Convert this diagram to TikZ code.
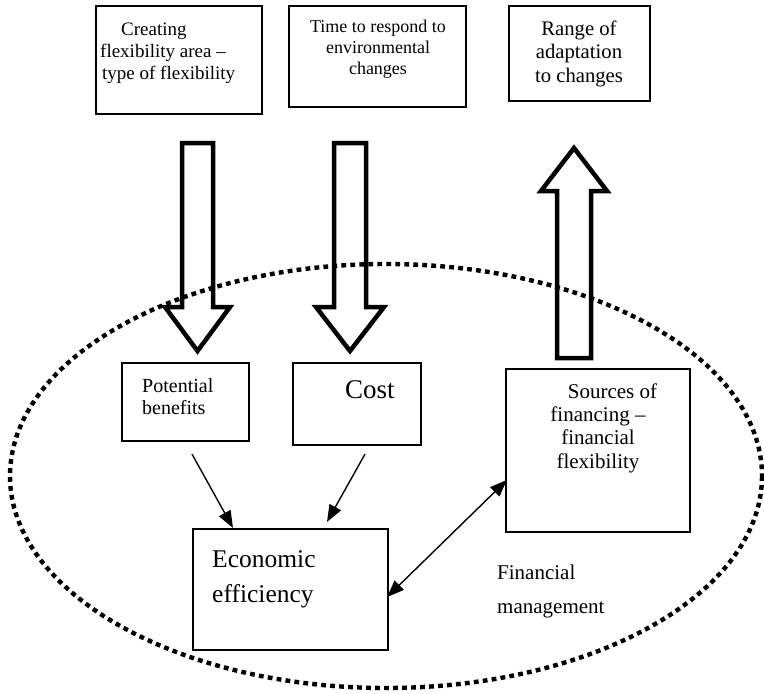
\documentclass[tikz,border=0pt]{standalone}
\usepackage{fontspec}
\setmainfont{Liberation Serif}
\usetikzlibrary{arrows.meta,calc}
\newcommand\fsz[2]{\fontsize{#1pt}{#2pt}\selectfont}

\begin{document}
\begin{tikzpicture}[x=1pt,y=-1pt,
  box/.style={draw, line width=1.8pt, rectangle, inner sep=0pt},
  txt/.style={inner sep=0pt},
  blockarrow/.style={draw, line width=4.5pt, line join=miter, miter limit=20},
  area/.style={line width=4.4pt, dash pattern=on 4.8pt off 4.2pt},
  link/.style={line width=1.4pt, -{Triangle[length=17pt,width=13pt]}},
  twolink/.style={line width=1.4pt, {Triangle[length=17pt,width=13pt]}-{Triangle[length=17pt,width=13pt]}}]
\useasboundingbox (0,0) rectangle (764,694);

% dotted boundary of financial management
\draw[area] (386,476) ellipse [x radius=376, y radius=212];

% top row of boxes
\node[box, minimum width=166.4pt, minimum height=108.4pt] (b1) at (179,60) {};
\node[box, minimum width=177.4pt, minimum height=101.4pt] (b2) at (377.5,56.5) {};
\node[box, minimum width=141.4pt, minimum height=95.4pt] (b3) at (579.5,53.5) {};

% multi-line texts are anchored at the baseline of their last line
\node[txt, font=\fsz{19}{22}, align=left, anchor=base west] (t1) at (100,79)
  {\hspace*{21pt}Creating\\flexibility area –\\\hspace*{2pt}type of flexibility};
\node[txt, font=\fsz{18}{21}, align=center, anchor=base] (t2) at (378,74)
  {Time to respond to\\environmental\\changes};
\node[txt, font=\fsz{20.7}{23.5}, align=center, anchor=base] (t3) at (579,82)
  {Range of\\adaptation\\to changes};

% inner boxes
\node[box, minimum width=127.4pt, minimum height=78.4pt] (pb) at (185.5,402) {};
\node[box, minimum width=128.4pt, minimum height=82.4pt] (cost) at (357,404) {};
\node[box, minimum width=184.4pt, minimum height=163.4pt] (src) at (598,450.5) {};
\node[box, minimum width=195.4pt, minimum height=121.4pt] (ee) at (290.5,589.5) {};

\node[txt, font=\fsz{20}{22}, align=left, anchor=base west] (tpb) at (142,414)
  {Potential\\benefits};
\node[txt, font=\fsz{27}{30}, anchor=base west] (tcost) at (345,398) {Cost};
\node[txt, font=\fsz{21}{23.3}, align=center, anchor=base] (tsrc) at (598,468)
  {\hspace*{29pt}Sources of\\financing –\\financial\\flexibility};
\node[txt, font=\fsz{25.5}{35}, align=left, anchor=base west] (tee) at (212,602)
  {Economic\\efficiency};
\node[txt, font=\fsz{21}{34}, align=left, anchor=base west] (tfm) at (497,613)
  {Financial\\management};

% hollow block arrows
\draw[blockarrow] (182,143) -- (213,143) -- (213,307) -- (230,307) -- (197.5,351)
  -- (165,307) -- (182,307) -- cycle;
\draw[blockarrow] (334,143) -- (366,143) -- (366,307) -- (384,307) -- (350,351)
  -- (316,307) -- (334,307) -- cycle;
\draw[blockarrow] (557,358) -- (591,358) -- (591,191) -- (607,191) -- (574,148)
  -- (541,191) -- (557,191) -- cycle;

% thin connectors
\draw[link] ($(pb.south)+(6.5,12)$) -- ($(ee.north)+(-57.5,0)$);
\draw[link] ($(cost.south)+(8,8)$) -- ($(ee.north)+(36.5,-6)$);
\draw[twolink] ($(ee.east)+(-2,7.5)$) -- ($(src.west)+(2,29.5)$);
\end{tikzpicture}
\end{document}
